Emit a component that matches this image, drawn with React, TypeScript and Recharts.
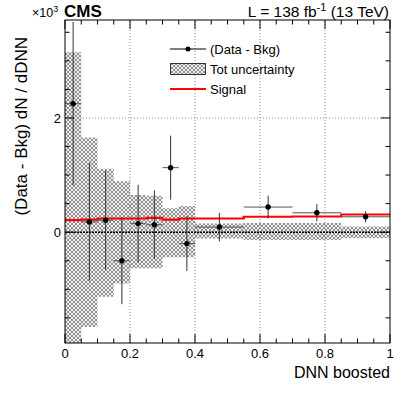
import React from 'react';
import { ComposedChart, Area, Line, Scatter, XAxis, YAxis, ErrorBar, ReferenceLine } from 'recharts';

// ---- data (values in units of 10^3) ----
const binEdges = [0, 0.05, 0.1, 0.15, 0.2, 0.25, 0.3, 0.35, 0.4, 0.55, 0.7, 0.85, 1.0];
const dataValues = [2.25, 0.18, 0.21, -0.5, 0.15, 0.13, 1.13, -0.2, 0.09, 0.44, 0.34, 0.27];
const dataErrors = [1.43, 1.03, 0.87, 0.76, 0.68, 0.6, 0.56, 0.48, 0.25, 0.2, 0.15, 0.1];
const uncUp = [3.15, 1.66, 1.11, 0.89, 0.65, 0.64, 0.42, 0.46, 0.15, 0.16, 0.16, 0.1];
const uncDown = [-3.15, -1.66, -1.13, -0.9, -0.63, -0.63, -0.44, -0.44, -0.11, -0.135, -0.135, -0.105];
const signalValues = [0.21, 0.22, 0.24, 0.24, 0.24, 0.25, 0.22, 0.24, 0.24, 0.27, 0.275, 0.31];

const xTickValues = [0, 0.05, 0.1, 0.15, 0.2, 0.25, 0.3, 0.35, 0.4, 0.45, 0.5, 0.55, 0.6, 0.65, 0.7, 0.75, 0.8, 0.85, 0.9, 0.95, 1.0];
const xTickLabels: Record<string, string> = { '0': '0', '0.2': '0.2', '0.4': '0.4', '0.6': '0.6', '0.8': '0.8', '1': '1' };
const yTickValues = [-1.5, -1, -0.5, 0, 0.5, 1, 1.5, 2, 2.5, 3, 3.5];
const yTickLabels: Record<string, string> = { '0': '0', '2': '2' };
const gridX = [0.2, 0.4, 0.6, 0.8];
const gridY = [2];

const Y_MIN = -1.94;
const Y_MAX = 3.715;

const pointData = dataValues.map((v, i) => ({
  x: (binEdges[i] + binEdges[i + 1]) / 2,
  y: v,
  yerr: dataErrors[i],
  xerr: (binEdges[i + 1] - binEdges[i]) / 2,
}));

const stepData = binEdges.map((e, i) => {
  const j = Math.min(i, dataValues.length - 1);
  return { x: e, band: [uncDown[j], uncUp[j]], sig: signalValues[j] };
});

// ---- layout ----
const W = 407;
const H = 395;
const PLOT = { left: 65, right: 390, top: 20, bottom: 343 };
const X_AXIS_H = 30;
const Y_AXIS_W = 30;
const FONT = '"Liberation Sans", Arial, Helvetica, sans-serif';

const fmt = (v: number) => String(Math.round(v * 1000) / 1000);

const renderXTick = (props: any) => {
  const { x, payload } = props;
  const v = Number(payload.value);
  const key = fmt(v);
  const major = xTickLabels[key] !== undefined;
  const len = major ? 9 : 4.5;
  return (
    <g key={'xt' + key}>
      <line x1={x} x2={x} y1={PLOT.bottom} y2={PLOT.bottom - len} stroke="#000" strokeWidth={1} />
      <line x1={x} x2={x} y1={PLOT.top} y2={PLOT.top + len} stroke="#000" strokeWidth={1} />
      {major && (
        <text x={x} y={358} textAnchor="middle" fontSize={13} fontFamily={FONT} fill="#000">
          {xTickLabels[key]}
        </text>
      )}
    </g>
  );
};

const renderYTick = (props: any) => {
  const { y, payload } = props;
  const v = Number(payload.value);
  const key = fmt(v);
  const major = yTickLabels[key] !== undefined;
  const len = major ? 9 : 4.5;
  return (
    <g key={'yt' + key}>
      <line x1={PLOT.left} x2={PLOT.left + len} y1={y} y2={y} stroke="#000" strokeWidth={1} />
      <line x1={PLOT.right} x2={PLOT.right - len} y1={y} y2={y} stroke="#000" strokeWidth={1} />
      {major && (
        <text x={61} y={y + 4.7} textAnchor="end" fontSize={13} fontFamily={FONT} fill="#000">
          {yTickLabels[key]}
        </text>
      )}
    </g>
  );
};

const Dot = (props: any) => {
  const { cx, cy } = props;
  return <circle cx={cx} cy={cy} r={2.7} fill="#000" />;
};

export default function App() {
  return (
    <div style={{ position: 'absolute', left: 0, top: 0, width: W, height: H, background: '#fff' }}>
      <svg width={0} height={0} style={{ position: 'absolute' }}>
        <defs>
          <pattern id="hatch" patternUnits="userSpaceOnUse" width={4} height={4}>
            <rect width={4} height={4} fill="#eeeeee" />
            <path d="M0,0 L4,4 M4,0 L0,4 M-1,3 L1,5 M3,-1 L5,1 M-1,1 L1,-1 M3,5 L5,3" stroke="#7a7a7a" strokeWidth={0.8} />
          </pattern>
        </defs>
      </svg>
      <ComposedChart
        width={W}
        height={H}
        margin={{
          top: PLOT.top,
          right: W - PLOT.right,
          bottom: H - PLOT.bottom - X_AXIS_H,
          left: PLOT.left - Y_AXIS_W,
        }}
      >
        <XAxis
          dataKey="x"
          type="number"
          domain={[0, 1]}
          allowDataOverflow
          ticks={xTickValues}
          interval={0}
          height={X_AXIS_H}
          axisLine={false}
          tickLine={false}
          tick={renderXTick}
        />
        <YAxis
          dataKey="y"
          type="number"
          domain={[Y_MIN, Y_MAX]}
          allowDataOverflow
          ticks={yTickValues}
          interval={0}
          width={Y_AXIS_W}
          axisLine={false}
          tickLine={false}
          tick={renderYTick}
        />
        <Area
          data={stepData}
          dataKey="band"
          type="stepAfter"
          fill="url(#hatch)"
          fillOpacity={1}
          stroke="none"
          isAnimationActive={false}
        />
        {gridX.map((g) => (
          <ReferenceLine key={'gx' + g} x={g} stroke="#8c8c8c" strokeDasharray="1 2" strokeWidth={1} />
        ))}
        {gridY.map((g) => (
          <ReferenceLine key={'gy' + g} y={g} stroke="#8c8c8c" strokeDasharray="1 2" strokeWidth={1} />
        ))}
        <ReferenceLine y={0} stroke="#000" strokeDasharray="2 1" strokeWidth={1.5} />
        <Line
          data={stepData}
          dataKey="sig"
          type="stepAfter"
          stroke="#ff0000"
          strokeWidth={2.2}
          dot={false}
          isAnimationActive={false}
        />
        <Scatter data={pointData} dataKey="y" shape={<Dot />} isAnimationActive={false}>
          <ErrorBar dataKey="xerr" direction="x" width={0} stroke="#555" strokeWidth={1} isAnimationActive={false} />
          <ErrorBar dataKey="yerr" direction="y" width={0} stroke="#333" strokeWidth={1} isAnimationActive={false} />
        </Scatter>
      </ComposedChart>
      <svg width={W} height={H} style={{ position: 'absolute', left: 0, top: 0, pointerEvents: 'none' }}>
        <rect
          x={PLOT.left}
          y={PLOT.top}
          width={PLOT.right - PLOT.left}
          height={PLOT.bottom - PLOT.top}
          fill="none"
          stroke="#000"
          strokeWidth={1}
        />
        <text x={32} y={17} fontSize={12.5} fontFamily={FONT} fill="#000">
          ×10<tspan dy={-5} fontSize={9}>3</tspan>
        </text>
        <text x={64} y={17} fontSize={17} fontWeight="bold" fontFamily={FONT} fill="#000">
          CMS
        </text>
        <text x={389} y={17} textAnchor="end" fontSize={15.5} fontFamily={FONT} fill="#000">
          L = 138 fb<tspan dy={-6} fontSize={11}>-1</tspan>
          <tspan dy={6} fontSize={15.5}> (13 TeV)</tspan>
        </text>
        <text
          transform="translate(27,37) rotate(-90)"
          x={0}
          y={0}
          textAnchor="end"
          fontSize={17}
          fontFamily={FONT}
          fill="#000"
        >
          (Data - Bkg) dN / dDNN
        </text>
        <text x={390} y={378} textAnchor="end" fontSize={16} fontFamily={FONT} fill="#000">
          DNN boosted
        </text>
        {/* legend */}
        <line x1={170} x2={206} y1={49} y2={49} stroke="#000" strokeWidth={1} />
        <circle cx={188} cy={49} r={2.5} fill="#000" />
        <text x={210} y={53.5} fontSize={13} fontFamily={FONT} fill="#000">(Data - Bkg)</text>
        <rect x={170.5} y={63.5} width={35} height={11} fill="url(#hatch)" stroke="#333" strokeWidth={1} />
        <text x={210} y={73.5} fontSize={13} fontFamily={FONT} fill="#000">Tot uncertainty</text>
        <line x1={170} x2={206} y1={89} y2={89} stroke="#ff0000" strokeWidth={2.2} />
        <text x={210} y={93.5} fontSize={13} fontFamily={FONT} fill="#000">Signal</text>
      </svg>
    </div>
  );
}
